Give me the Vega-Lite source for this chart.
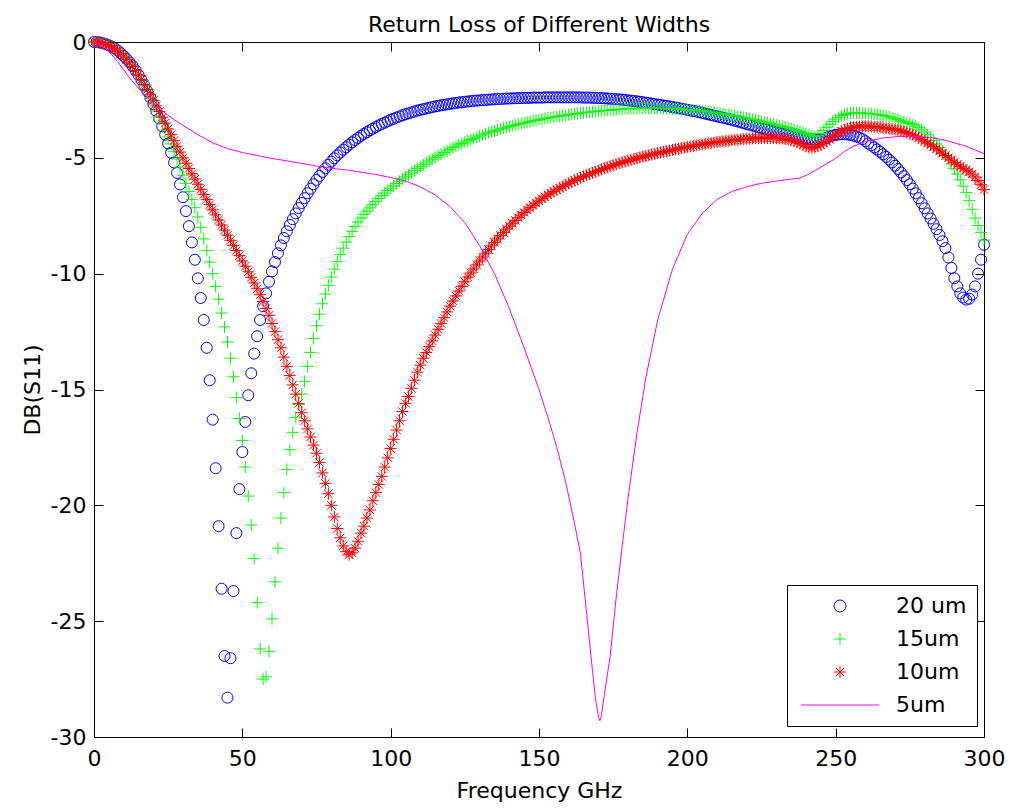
{
"$schema": "https://vega.github.io/schema/vega-lite/v6.json",
"width": 890, "height": 695,
"autosize": {"type": "none"},
"padding": {"left": 94, "top": 42, "right": 26, "bottom": 72},
"background": "white",
"config": {
  "view": {"stroke": "black", "strokeWidth": 1},
  "font": "DejaVu Sans",
  "axis": {"domainColor": "black", "tickColor": "black", "labelColor": "black", "titleColor": "black", "labelFontSize": 22, "titleFontSize": 22, "titleFontWeight": "normal", "labelFont": "DejaVu Sans", "titleFont": "DejaVu Sans", "grid": false, "tickSize": -9, "domainWidth": 1, "tickWidth": 1, "labelFlush": false}
},
"title": {"text": "Return Loss of Different Widths", "fontSize": 22, "fontWeight": "normal", "font": "DejaVu Sans", "color": "black", "anchor": "middle", "frame": "group", "baseline": "alphabetic", "offset": 6, "dy": 29},
"datasets": {
"b": [{"f":0,"d":0},{"f":1,"d":0},{"f":2,"d":-0.02},{"f":3,"d":-0.05},{"f":4,"d":-0.09},{"f":5,"d":-0.14},{"f":6,"d":-0.2},{"f":7,"d":-0.28},{"f":8,"d":-0.37},{"f":9,"d":-0.48},{"f":10,"d":-0.6},{"f":11,"d":-0.73},{"f":12,"d":-0.88},{"f":13,"d":-1.04},{"f":14,"d":-1.22},{"f":15,"d":-1.42},{"f":16,"d":-1.64},{"f":17,"d":-1.88},{"f":18,"d":-2.13},{"f":19,"d":-2.4},{"f":20,"d":-2.68},{"f":21,"d":-2.98},{"f":22,"d":-3.3},{"f":23,"d":-3.64},{"f":24,"d":-4.0},{"f":25,"d":-4.38},{"f":26,"d":-4.78},{"f":27,"d":-5.2},{"f":28,"d":-5.65},{"f":29,"d":-6.15},{"f":30,"d":-6.7},{"f":31,"d":-7.3},{"f":32,"d":-7.95},{"f":33,"d":-8.65},{"f":34,"d":-9.4},{"f":35,"d":-10.2},{"f":36,"d":-11.05},{"f":37,"d":-12.0},{"f":38,"d":-13.2},{"f":39,"d":-14.6},{"f":40,"d":-16.3},{"f":41,"d":-18.4},{"f":42,"d":-20.9},{"f":43,"d":-23.6},{"f":44,"d":-26.5},{"f":45,"d":-28.3},{"f":46,"d":-26.6},{"f":47,"d":-23.7},{"f":48,"d":-21.2},{"f":49,"d":-19.3},{"f":50,"d":-17.7},{"f":51,"d":-16.4},{"f":52,"d":-15.25},{"f":53,"d":-14.3},{"f":54,"d":-13.45},{"f":55,"d":-12.7},{"f":56,"d":-12.0},{"f":57,"d":-11.4},{"f":58,"d":-10.85},{"f":59,"d":-10.35},{"f":60,"d":-9.9},{"f":61,"d":-9.5},{"f":62,"d":-9.12},{"f":63,"d":-8.78},{"f":64,"d":-8.46},{"f":65,"d":-8.17},{"f":66,"d":-7.9},{"f":67,"d":-7.65},{"f":68,"d":-7.4},{"f":69,"d":-7.17},{"f":70,"d":-6.95},{"f":71,"d":-6.74},{"f":72,"d":-6.53},{"f":73,"d":-6.33},{"f":74,"d":-6.14},{"f":75,"d":-5.95},{"f":76,"d":-5.78},{"f":77,"d":-5.61},{"f":78,"d":-5.45},{"f":79,"d":-5.3},{"f":80,"d":-5.16},{"f":81,"d":-5.02},{"f":82,"d":-4.89},{"f":83,"d":-4.77},{"f":84,"d":-4.65},{"f":85,"d":-4.54},{"f":86,"d":-4.43},{"f":87,"d":-4.33},{"f":88,"d":-4.23},{"f":89,"d":-4.14},{"f":90,"d":-4.05},{"f":91,"d":-3.97},{"f":92,"d":-3.89},{"f":93,"d":-3.81},{"f":94,"d":-3.74},{"f":95,"d":-3.67},{"f":96,"d":-3.6},{"f":97,"d":-3.54},{"f":98,"d":-3.48},{"f":99,"d":-3.42},{"f":100,"d":-3.36},{"f":101,"d":-3.31},{"f":102,"d":-3.26},{"f":103,"d":-3.21},{"f":104,"d":-3.16},{"f":105,"d":-3.12},{"f":106,"d":-3.08},{"f":107,"d":-3.04},{"f":108,"d":-3.0},{"f":109,"d":-2.96},{"f":110,"d":-2.93},{"f":111,"d":-2.9},{"f":112,"d":-2.87},{"f":113,"d":-2.84},{"f":114,"d":-2.81},{"f":115,"d":-2.78},{"f":116,"d":-2.76},{"f":117,"d":-2.73},{"f":118,"d":-2.71},{"f":119,"d":-2.69},{"f":120,"d":-2.67},{"f":121,"d":-2.65},{"f":122,"d":-2.63},{"f":123,"d":-2.61},{"f":124,"d":-2.6},{"f":125,"d":-2.58},{"f":126,"d":-2.57},{"f":127,"d":-2.55},{"f":128,"d":-2.54},{"f":129,"d":-2.53},{"f":130,"d":-2.52},{"f":131,"d":-2.51},{"f":132,"d":-2.5},{"f":133,"d":-2.49},{"f":134,"d":-2.48},{"f":135,"d":-2.47},{"f":136,"d":-2.46},{"f":137,"d":-2.46},{"f":138,"d":-2.45},{"f":139,"d":-2.44},{"f":140,"d":-2.44},{"f":141,"d":-2.43},{"f":142,"d":-2.43},{"f":143,"d":-2.42},{"f":144,"d":-2.42},{"f":145,"d":-2.41},{"f":146,"d":-2.41},{"f":147,"d":-2.41},{"f":148,"d":-2.4},{"f":149,"d":-2.4},{"f":150,"d":-2.4},{"f":151,"d":-2.4},{"f":152,"d":-2.39},{"f":153,"d":-2.39},{"f":154,"d":-2.39},{"f":155,"d":-2.39},{"f":156,"d":-2.39},{"f":157,"d":-2.39},{"f":158,"d":-2.39},{"f":159,"d":-2.39},{"f":160,"d":-2.39},{"f":161,"d":-2.39},{"f":162,"d":-2.39},{"f":163,"d":-2.39},{"f":164,"d":-2.39},{"f":165,"d":-2.4},{"f":166,"d":-2.4},{"f":167,"d":-2.4},{"f":168,"d":-2.41},{"f":169,"d":-2.41},{"f":170,"d":-2.42},{"f":171,"d":-2.42},{"f":172,"d":-2.43},{"f":173,"d":-2.44},{"f":174,"d":-2.45},{"f":175,"d":-2.46},{"f":176,"d":-2.47},{"f":177,"d":-2.48},{"f":178,"d":-2.49},{"f":179,"d":-2.5},{"f":180,"d":-2.52},{"f":181,"d":-2.53},{"f":182,"d":-2.55},{"f":183,"d":-2.56},{"f":184,"d":-2.58},{"f":185,"d":-2.6},{"f":186,"d":-2.62},{"f":187,"d":-2.64},{"f":188,"d":-2.66},{"f":189,"d":-2.68},{"f":190,"d":-2.7},{"f":191,"d":-2.72},{"f":192,"d":-2.74},{"f":193,"d":-2.76},{"f":194,"d":-2.78},{"f":195,"d":-2.81},{"f":196,"d":-2.83},{"f":197,"d":-2.85},{"f":198,"d":-2.88},{"f":199,"d":-2.9},{"f":200,"d":-2.93},{"f":201,"d":-2.95},{"f":202,"d":-2.98},{"f":203,"d":-3.0},{"f":204,"d":-3.03},{"f":205,"d":-3.06},{"f":206,"d":-3.09},{"f":207,"d":-3.12},{"f":208,"d":-3.15},{"f":209,"d":-3.18},{"f":210,"d":-3.21},{"f":211,"d":-3.24},{"f":212,"d":-3.27},{"f":213,"d":-3.3},{"f":214,"d":-3.33},{"f":215,"d":-3.36},{"f":216,"d":-3.4},{"f":217,"d":-3.43},{"f":218,"d":-3.47},{"f":219,"d":-3.5},{"f":220,"d":-3.54},{"f":221,"d":-3.57},{"f":222,"d":-3.61},{"f":223,"d":-3.64},{"f":224,"d":-3.68},{"f":225,"d":-3.71},{"f":226,"d":-3.75},{"f":227,"d":-3.79},{"f":228,"d":-3.82},{"f":229,"d":-3.86},{"f":230,"d":-3.89},{"f":231,"d":-3.93},{"f":232,"d":-3.96},{"f":233,"d":-3.99},{"f":234,"d":-4.02},{"f":235,"d":-4.05},{"f":236,"d":-4.08},{"f":237,"d":-4.1},{"f":238,"d":-4.12},{"f":239,"d":-4.14},{"f":240,"d":-4.16},{"f":241,"d":-4.18},{"f":242,"d":-4.2},{"f":243,"d":-4.21},{"f":244,"d":-4.21},{"f":245,"d":-4.2},{"f":246,"d":-4.17},{"f":247,"d":-4.13},{"f":248,"d":-4.08},{"f":249,"d":-4.04},{"f":250,"d":-4.01},{"f":251,"d":-3.99},{"f":252,"d":-3.98},{"f":253,"d":-3.98},{"f":254,"d":-3.99},{"f":255,"d":-4.01},{"f":256,"d":-4.04},{"f":257,"d":-4.08},{"f":258,"d":-4.13},{"f":259,"d":-4.19},{"f":260,"d":-4.28},{"f":261,"d":-4.38},{"f":262,"d":-4.46},{"f":263,"d":-4.55},{"f":264,"d":-4.64},{"f":265,"d":-4.74},{"f":266,"d":-4.85},{"f":267,"d":-4.96},{"f":268,"d":-5.08},{"f":269,"d":-5.2},{"f":270,"d":-5.34},{"f":271,"d":-5.48},{"f":272,"d":-5.63},{"f":273,"d":-5.79},{"f":274,"d":-5.96},{"f":275,"d":-6.14},{"f":276,"d":-6.33},{"f":277,"d":-6.53},{"f":278,"d":-6.74},{"f":279,"d":-6.96},{"f":280,"d":-7.18},{"f":281,"d":-7.4},{"f":282,"d":-7.62},{"f":283,"d":-7.85},{"f":284,"d":-8.08},{"f":285,"d":-8.33},{"f":286,"d":-8.6},{"f":287,"d":-8.9},{"f":288,"d":-9.3},{"f":289,"d":-9.75},{"f":290,"d":-10.2},{"f":291,"d":-10.55},{"f":292,"d":-10.85},{"f":293,"d":-11.03},{"f":294,"d":-11.12},{"f":295,"d":-11.08},{"f":296,"d":-10.9},{"f":297,"d":-10.55},{"f":298,"d":-10.0},{"f":299,"d":-9.4},{"f":300,"d":-8.75}],
"g": [{"f":0,"d":0},{"f":1,"d":0},{"f":2,"d":-0.02},{"f":3,"d":-0.05},{"f":4,"d":-0.09},{"f":5,"d":-0.14},{"f":6,"d":-0.2},{"f":7,"d":-0.28},{"f":8,"d":-0.37},{"f":9,"d":-0.48},{"f":10,"d":-0.6},{"f":11,"d":-0.73},{"f":12,"d":-0.88},{"f":13,"d":-1.04},{"f":14,"d":-1.22},{"f":15,"d":-1.42},{"f":16,"d":-1.64},{"f":17,"d":-1.88},{"f":18,"d":-2.13},{"f":19,"d":-2.4},{"f":20,"d":-2.68},{"f":21,"d":-2.95},{"f":22,"d":-3.22},{"f":23,"d":-3.5},{"f":24,"d":-3.8},{"f":25,"d":-4.1},{"f":26,"d":-4.4},{"f":27,"d":-4.72},{"f":28,"d":-5.05},{"f":29,"d":-5.4},{"f":30,"d":-5.75},{"f":31,"d":-6.1},{"f":32,"d":-6.45},{"f":33,"d":-6.8},{"f":34,"d":-7.15},{"f":35,"d":-7.55},{"f":36,"d":-8.0},{"f":37,"d":-8.5},{"f":38,"d":-9.0},{"f":39,"d":-9.5},{"f":40,"d":-10.0},{"f":41,"d":-10.55},{"f":42,"d":-11.1},{"f":43,"d":-11.7},{"f":44,"d":-12.3},{"f":45,"d":-12.95},{"f":46,"d":-13.65},{"f":47,"d":-14.45},{"f":48,"d":-15.35},{"f":49,"d":-16.25},{"f":50,"d":-17.2},{"f":51,"d":-18.35},{"f":52,"d":-19.6},{"f":53,"d":-20.85},{"f":54,"d":-22.3},{"f":55,"d":-24.2},{"f":56,"d":-26.2},{"f":57,"d":-27.5},{"f":58,"d":-27.4},{"f":59,"d":-26.3},{"f":60,"d":-24.9},{"f":61,"d":-23.3},{"f":62,"d":-21.85},{"f":63,"d":-20.55},{"f":64,"d":-19.45},{"f":65,"d":-18.45},{"f":66,"d":-17.6},{"f":67,"d":-16.85},{"f":68,"d":-16.2},{"f":69,"d":-15.65},{"f":70,"d":-15.2},{"f":71,"d":-14.65},{"f":72,"d":-14.0},{"f":73,"d":-13.4},{"f":74,"d":-12.8},{"f":75,"d":-12.25},{"f":76,"d":-11.75},{"f":77,"d":-11.3},{"f":78,"d":-10.88},{"f":79,"d":-10.5},{"f":80,"d":-10.15},{"f":81,"d":-9.8},{"f":82,"d":-9.48},{"f":83,"d":-9.18},{"f":84,"d":-8.9},{"f":85,"d":-8.64},{"f":86,"d":-8.4},{"f":87,"d":-8.17},{"f":88,"d":-7.96},{"f":89,"d":-7.77},{"f":90,"d":-7.6},{"f":91,"d":-7.44},{"f":92,"d":-7.3},{"f":93,"d":-7.16},{"f":94,"d":-7.02},{"f":95,"d":-6.88},{"f":96,"d":-6.75},{"f":97,"d":-6.63},{"f":98,"d":-6.52},{"f":99,"d":-6.41},{"f":100,"d":-6.31},{"f":101,"d":-6.21},{"f":102,"d":-6.11},{"f":103,"d":-6.01},{"f":104,"d":-5.91},{"f":105,"d":-5.82},{"f":106,"d":-5.73},{"f":107,"d":-5.64},{"f":108,"d":-5.55},{"f":109,"d":-5.46},{"f":110,"d":-5.38},{"f":111,"d":-5.3},{"f":112,"d":-5.22},{"f":113,"d":-5.14},{"f":114,"d":-5.06},{"f":115,"d":-4.98},{"f":116,"d":-4.91},{"f":117,"d":-4.84},{"f":118,"d":-4.77},{"f":119,"d":-4.7},{"f":120,"d":-4.63},{"f":121,"d":-4.56},{"f":122,"d":-4.5},{"f":123,"d":-4.44},{"f":124,"d":-4.38},{"f":125,"d":-4.32},{"f":126,"d":-4.26},{"f":127,"d":-4.21},{"f":128,"d":-4.16},{"f":129,"d":-4.11},{"f":130,"d":-4.06},{"f":131,"d":-4.01},{"f":132,"d":-3.96},{"f":133,"d":-3.92},{"f":134,"d":-3.88},{"f":135,"d":-3.84},{"f":136,"d":-3.8},{"f":137,"d":-3.76},{"f":138,"d":-3.72},{"f":139,"d":-3.68},{"f":140,"d":-3.65},{"f":141,"d":-3.61},{"f":142,"d":-3.58},{"f":143,"d":-3.55},{"f":144,"d":-3.52},{"f":145,"d":-3.49},{"f":146,"d":-3.46},{"f":147,"d":-3.43},{"f":148,"d":-3.4},{"f":149,"d":-3.38},{"f":150,"d":-3.35},{"f":151,"d":-3.33},{"f":152,"d":-3.3},{"f":153,"d":-3.28},{"f":154,"d":-3.26},{"f":155,"d":-3.24},{"f":156,"d":-3.22},{"f":157,"d":-3.2},{"f":158,"d":-3.18},{"f":159,"d":-3.16},{"f":160,"d":-3.14},{"f":161,"d":-3.12},{"f":162,"d":-3.1},{"f":163,"d":-3.09},{"f":164,"d":-3.07},{"f":165,"d":-3.05},{"f":166,"d":-3.04},{"f":167,"d":-3.02},{"f":168,"d":-3.01},{"f":169,"d":-3.0},{"f":170,"d":-2.98},{"f":171,"d":-2.97},{"f":172,"d":-2.96},{"f":173,"d":-2.95},{"f":174,"d":-2.94},{"f":175,"d":-2.93},{"f":176,"d":-2.92},{"f":177,"d":-2.91},{"f":178,"d":-2.9},{"f":179,"d":-2.89},{"f":180,"d":-2.88},{"f":181,"d":-2.88},{"f":182,"d":-2.87},{"f":183,"d":-2.87},{"f":184,"d":-2.86},{"f":185,"d":-2.86},{"f":186,"d":-2.86},{"f":187,"d":-2.86},{"f":188,"d":-2.86},{"f":189,"d":-2.86},{"f":190,"d":-2.86},{"f":191,"d":-2.86},{"f":192,"d":-2.86},{"f":193,"d":-2.87},{"f":194,"d":-2.87},{"f":195,"d":-2.88},{"f":196,"d":-2.88},{"f":197,"d":-2.89},{"f":198,"d":-2.9},{"f":199,"d":-2.91},{"f":200,"d":-2.92},{"f":201,"d":-2.93},{"f":202,"d":-2.94},{"f":203,"d":-2.95},{"f":204,"d":-2.96},{"f":205,"d":-2.98},{"f":206,"d":-2.99},{"f":207,"d":-3.01},{"f":208,"d":-3.02},{"f":209,"d":-3.04},{"f":210,"d":-3.06},{"f":211,"d":-3.08},{"f":212,"d":-3.1},{"f":213,"d":-3.12},{"f":214,"d":-3.14},{"f":215,"d":-3.16},{"f":216,"d":-3.18},{"f":217,"d":-3.21},{"f":218,"d":-3.23},{"f":219,"d":-3.26},{"f":220,"d":-3.28},{"f":221,"d":-3.31},{"f":222,"d":-3.34},{"f":223,"d":-3.37},{"f":224,"d":-3.4},{"f":225,"d":-3.43},{"f":226,"d":-3.46},{"f":227,"d":-3.49},{"f":228,"d":-3.52},{"f":229,"d":-3.55},{"f":230,"d":-3.58},{"f":231,"d":-3.61},{"f":232,"d":-3.64},{"f":233,"d":-3.67},{"f":234,"d":-3.7},{"f":235,"d":-3.74},{"f":236,"d":-3.78},{"f":237,"d":-3.82},{"f":238,"d":-3.86},{"f":239,"d":-3.9},{"f":240,"d":-3.95},{"f":241,"d":-4.0},{"f":242,"d":-4.05},{"f":243,"d":-4.08},{"f":244,"d":-4.05},{"f":245,"d":-3.95},{"f":246,"d":-3.82},{"f":247,"d":-3.68},{"f":248,"d":-3.55},{"f":249,"d":-3.43},{"f":250,"d":-3.33},{"f":251,"d":-3.25},{"f":252,"d":-3.18},{"f":253,"d":-3.13},{"f":254,"d":-3.09},{"f":255,"d":-3.07},{"f":256,"d":-3.06},{"f":257,"d":-3.06},{"f":258,"d":-3.06},{"f":259,"d":-3.07},{"f":260,"d":-3.08},{"f":261,"d":-3.09},{"f":262,"d":-3.1},{"f":263,"d":-3.11},{"f":264,"d":-3.13},{"f":265,"d":-3.15},{"f":266,"d":-3.17},{"f":267,"d":-3.2},{"f":268,"d":-3.23},{"f":269,"d":-3.27},{"f":270,"d":-3.31},{"f":271,"d":-3.35},{"f":272,"d":-3.4},{"f":273,"d":-3.44},{"f":274,"d":-3.48},{"f":275,"d":-3.52},{"f":276,"d":-3.57},{"f":277,"d":-3.63},{"f":278,"d":-3.7},{"f":279,"d":-3.79},{"f":280,"d":-3.89},{"f":281,"d":-4.0},{"f":282,"d":-4.12},{"f":283,"d":-4.25},{"f":284,"d":-4.4},{"f":285,"d":-4.55},{"f":286,"d":-4.7},{"f":287,"d":-4.88},{"f":288,"d":-5.06},{"f":289,"d":-5.26},{"f":290,"d":-5.47},{"f":291,"d":-5.7},{"f":292,"d":-5.95},{"f":293,"d":-6.22},{"f":294,"d":-6.5},{"f":295,"d":-6.85},{"f":296,"d":-7.22},{"f":297,"d":-7.6},{"f":298,"d":-7.92},{"f":299,"d":-8.22},{"f":300,"d":-8.55}],
"r": [{"f":0,"d":0},{"f":1,"d":-0.01},{"f":2,"d":-0.03},{"f":3,"d":-0.06},{"f":4,"d":-0.1},{"f":5,"d":-0.15},{"f":6,"d":-0.21},{"f":7,"d":-0.29},{"f":8,"d":-0.38},{"f":9,"d":-0.49},{"f":10,"d":-0.61},{"f":11,"d":-0.75},{"f":12,"d":-0.9},{"f":13,"d":-1.06},{"f":14,"d":-1.23},{"f":15,"d":-1.42},{"f":16,"d":-1.62},{"f":17,"d":-1.83},{"f":18,"d":-2.05},{"f":19,"d":-2.28},{"f":20,"d":-2.52},{"f":21,"d":-2.76},{"f":22,"d":-3.0},{"f":23,"d":-3.25},{"f":24,"d":-3.5},{"f":25,"d":-3.75},{"f":26,"d":-4.0},{"f":27,"d":-4.25},{"f":28,"d":-4.5},{"f":29,"d":-4.75},{"f":30,"d":-5.0},{"f":31,"d":-5.23},{"f":32,"d":-5.46},{"f":33,"d":-5.69},{"f":34,"d":-5.92},{"f":35,"d":-6.14},{"f":36,"d":-6.36},{"f":37,"d":-6.58},{"f":38,"d":-6.8},{"f":39,"d":-7.02},{"f":40,"d":-7.24},{"f":41,"d":-7.46},{"f":42,"d":-7.68},{"f":43,"d":-7.9},{"f":44,"d":-8.12},{"f":45,"d":-8.34},{"f":46,"d":-8.56},{"f":47,"d":-8.78},{"f":48,"d":-9.0},{"f":49,"d":-9.22},{"f":50,"d":-9.45},{"f":51,"d":-9.68},{"f":52,"d":-9.92},{"f":53,"d":-10.16},{"f":54,"d":-10.4},{"f":55,"d":-10.65},{"f":56,"d":-10.91},{"f":57,"d":-11.2},{"f":58,"d":-11.5},{"f":59,"d":-11.8},{"f":60,"d":-12.15},{"f":61,"d":-12.5},{"f":62,"d":-12.85},{"f":63,"d":-13.2},{"f":64,"d":-13.6},{"f":65,"d":-14.0},{"f":66,"d":-14.4},{"f":67,"d":-14.8},{"f":68,"d":-15.2},{"f":69,"d":-15.6},{"f":70,"d":-16.0},{"f":71,"d":-16.35},{"f":72,"d":-16.7},{"f":73,"d":-17.05},{"f":74,"d":-17.4},{"f":75,"d":-17.75},{"f":76,"d":-18.15},{"f":77,"d":-18.6},{"f":78,"d":-19.05},{"f":79,"d":-19.5},{"f":80,"d":-20.0},{"f":81,"d":-20.5},{"f":82,"d":-21.0},{"f":83,"d":-21.4},{"f":84,"d":-21.75},{"f":85,"d":-22.0},{"f":86,"d":-22.13},{"f":87,"d":-22.05},{"f":88,"d":-21.85},{"f":89,"d":-21.55},{"f":90,"d":-21.2},{"f":91,"d":-20.9},{"f":92,"d":-20.55},{"f":93,"d":-20.2},{"f":94,"d":-19.8},{"f":95,"d":-19.45},{"f":96,"d":-19.1},{"f":97,"d":-18.75},{"f":98,"d":-18.35},{"f":99,"d":-17.95},{"f":100,"d":-17.55},{"f":101,"d":-17.15},{"f":102,"d":-16.75},{"f":103,"d":-16.35},{"f":104,"d":-15.95},{"f":105,"d":-15.6},{"f":106,"d":-15.3},{"f":107,"d":-14.95},{"f":108,"d":-14.6},{"f":109,"d":-14.25},{"f":110,"d":-13.95},{"f":111,"d":-13.65},{"f":112,"d":-13.4},{"f":113,"d":-13.15},{"f":114,"d":-12.9},{"f":115,"d":-12.65},{"f":116,"d":-12.4},{"f":117,"d":-12.15},{"f":118,"d":-11.9},{"f":119,"d":-11.65},{"f":120,"d":-11.4},{"f":121,"d":-11.18},{"f":122,"d":-10.96},{"f":123,"d":-10.75},{"f":124,"d":-10.55},{"f":125,"d":-10.35},{"f":126,"d":-10.15},{"f":127,"d":-9.97},{"f":128,"d":-9.8},{"f":129,"d":-9.62},{"f":130,"d":-9.45},{"f":131,"d":-9.28},{"f":132,"d":-9.12},{"f":133,"d":-8.96},{"f":134,"d":-8.8},{"f":135,"d":-8.65},{"f":136,"d":-8.5},{"f":137,"d":-8.36},{"f":138,"d":-8.22},{"f":139,"d":-8.08},{"f":140,"d":-7.95},{"f":141,"d":-7.82},{"f":142,"d":-7.7},{"f":143,"d":-7.58},{"f":144,"d":-7.47},{"f":145,"d":-7.36},{"f":146,"d":-7.25},{"f":147,"d":-7.15},{"f":148,"d":-7.05},{"f":149,"d":-6.95},{"f":150,"d":-6.86},{"f":151,"d":-6.77},{"f":152,"d":-6.68},{"f":153,"d":-6.6},{"f":154,"d":-6.52},{"f":155,"d":-6.45},{"f":156,"d":-6.38},{"f":157,"d":-6.31},{"f":158,"d":-6.24},{"f":159,"d":-6.17},{"f":160,"d":-6.1},{"f":161,"d":-6.04},{"f":162,"d":-5.98},{"f":163,"d":-5.92},{"f":164,"d":-5.86},{"f":165,"d":-5.8},{"f":166,"d":-5.75},{"f":167,"d":-5.7},{"f":168,"d":-5.65},{"f":169,"d":-5.6},{"f":170,"d":-5.55},{"f":171,"d":-5.5},{"f":172,"d":-5.46},{"f":173,"d":-5.41},{"f":174,"d":-5.37},{"f":175,"d":-5.32},{"f":176,"d":-5.28},{"f":177,"d":-5.24},{"f":178,"d":-5.2},{"f":179,"d":-5.16},{"f":180,"d":-5.12},{"f":181,"d":-5.09},{"f":182,"d":-5.05},{"f":183,"d":-5.02},{"f":184,"d":-4.98},{"f":185,"d":-4.95},{"f":186,"d":-4.92},{"f":187,"d":-4.89},{"f":188,"d":-4.86},{"f":189,"d":-4.83},{"f":190,"d":-4.8},{"f":191,"d":-4.77},{"f":192,"d":-4.74},{"f":193,"d":-4.72},{"f":194,"d":-4.69},{"f":195,"d":-4.66},{"f":196,"d":-4.63},{"f":197,"d":-4.61},{"f":198,"d":-4.58},{"f":199,"d":-4.56},{"f":200,"d":-4.53},{"f":201,"d":-4.51},{"f":202,"d":-4.49},{"f":203,"d":-4.46},{"f":204,"d":-4.44},{"f":205,"d":-4.42},{"f":206,"d":-4.4},{"f":207,"d":-4.38},{"f":208,"d":-4.36},{"f":209,"d":-4.34},{"f":210,"d":-4.32},{"f":211,"d":-4.3},{"f":212,"d":-4.29},{"f":213,"d":-4.27},{"f":214,"d":-4.26},{"f":215,"d":-4.24},{"f":216,"d":-4.23},{"f":217,"d":-4.22},{"f":218,"d":-4.2},{"f":219,"d":-4.19},{"f":220,"d":-4.18},{"f":221,"d":-4.17},{"f":222,"d":-4.16},{"f":223,"d":-4.15},{"f":224,"d":-4.15},{"f":225,"d":-4.14},{"f":226,"d":-4.14},{"f":227,"d":-4.14},{"f":228,"d":-4.14},{"f":229,"d":-4.14},{"f":230,"d":-4.15},{"f":231,"d":-4.16},{"f":232,"d":-4.17},{"f":233,"d":-4.19},{"f":234,"d":-4.21},{"f":235,"d":-4.24},{"f":236,"d":-4.28},{"f":237,"d":-4.33},{"f":238,"d":-4.38},{"f":239,"d":-4.44},{"f":240,"d":-4.5},{"f":241,"d":-4.55},{"f":242,"d":-4.57},{"f":243,"d":-4.55},{"f":244,"d":-4.5},{"f":245,"d":-4.44},{"f":246,"d":-4.37},{"f":247,"d":-4.29},{"f":248,"d":-4.2},{"f":249,"d":-4.11},{"f":250,"d":-4.02},{"f":251,"d":-3.93},{"f":252,"d":-3.85},{"f":253,"d":-3.79},{"f":254,"d":-3.74},{"f":255,"d":-3.7},{"f":256,"d":-3.68},{"f":257,"d":-3.66},{"f":258,"d":-3.65},{"f":259,"d":-3.64},{"f":260,"d":-3.64},{"f":261,"d":-3.64},{"f":262,"d":-3.65},{"f":263,"d":-3.66},{"f":264,"d":-3.67},{"f":265,"d":-3.68},{"f":266,"d":-3.7},{"f":267,"d":-3.72},{"f":268,"d":-3.74},{"f":269,"d":-3.76},{"f":270,"d":-3.78},{"f":271,"d":-3.8},{"f":272,"d":-3.83},{"f":273,"d":-3.87},{"f":274,"d":-3.91},{"f":275,"d":-3.96},{"f":276,"d":-4.01},{"f":277,"d":-4.07},{"f":278,"d":-4.14},{"f":279,"d":-4.21},{"f":280,"d":-4.28},{"f":281,"d":-4.36},{"f":282,"d":-4.44},{"f":283,"d":-4.52},{"f":284,"d":-4.61},{"f":285,"d":-4.7},{"f":286,"d":-4.8},{"f":287,"d":-4.9},{"f":288,"d":-5.0},{"f":289,"d":-5.1},{"f":290,"d":-5.2},{"f":291,"d":-5.29},{"f":292,"d":-5.37},{"f":293,"d":-5.45},{"f":294,"d":-5.52},{"f":295,"d":-5.6},{"f":296,"d":-5.7},{"f":297,"d":-5.83},{"f":298,"d":-5.98},{"f":299,"d":-6.16},{"f":300,"d":-6.37}],
"m": [{"f":0,"d":0},{"f":2,"d":-0.1},{"f":4,"d":-0.3},{"f":6,"d":-0.55},{"f":8,"d":-0.85},{"f":10,"d":-1.2},{"f":12,"d":-1.55},{"f":15,"d":-2.0},{"f":18,"d":-2.4},{"f":21,"d":-2.75},{"f":24,"d":-3.07},{"f":27,"d":-3.35},{"f":30,"d":-3.6},{"f":35,"d":-4.0},{"f":40,"d":-4.35},{"f":45,"d":-4.6},{"f":50,"d":-4.77},{"f":55,"d":-4.9},{"f":60,"d":-5.03},{"f":65,"d":-5.13},{"f":70,"d":-5.24},{"f":75,"d":-5.35},{"f":80,"d":-5.45},{"f":85,"d":-5.52},{"f":90,"d":-5.62},{"f":95,"d":-5.72},{"f":100,"d":-5.85},{"f":105,"d":-6.0},{"f":110,"d":-6.25},{"f":115,"d":-6.6},{"f":120,"d":-7.1},{"f":125,"d":-7.8},{"f":130,"d":-8.8},{"f":135,"d":-10.0},{"f":140,"d":-11.5},{"f":145,"d":-13.2},{"f":150,"d":-15.0},{"f":153,"d":-16.2},{"f":156,"d":-17.5},{"f":159,"d":-19.0},{"f":162,"d":-20.8},{"f":164,"d":-22.1},{"f":166,"d":-24.6},{"f":168,"d":-27.1},{"f":169,"d":-28.3},{"f":170,"d":-29.1},{"f":170.5,"d":-29.3},{"f":171,"d":-29.1},{"f":172,"d":-28.2},{"f":174,"d":-26.5},{"f":176,"d":-24.0},{"f":178,"d":-21.8},{"f":180,"d":-19.7},{"f":183,"d":-16.9},{"f":186,"d":-14.5},{"f":190,"d":-12.0},{"f":195,"d":-9.8},{"f":200,"d":-8.3},{"f":205,"d":-7.4},{"f":210,"d":-6.8},{"f":215,"d":-6.45},{"f":220,"d":-6.25},{"f":225,"d":-6.1},{"f":230,"d":-6.0},{"f":235,"d":-5.92},{"f":238,"d":-5.87},{"f":241,"d":-5.7},{"f":244,"d":-5.48},{"f":247,"d":-5.25},{"f":250,"d":-5.03},{"f":253,"d":-4.72},{"f":256,"d":-4.5},{"f":260,"d":-4.3},{"f":266,"d":-4.14},{"f":272,"d":-4.07},{"f":278,"d":-4.07},{"f":283,"d":-4.14},{"f":288,"d":-4.28},{"f":294,"d":-4.5},{"f":300,"d":-4.82}]
},
"layer": [
 {"data": {"name": "b"},
  "mark": {"type": "point", "filled": false, "strokeWidth": 1, "size": 121, "opacity": 1},
  "encoding": {
   "x": {"field": "f", "type": "quantitative", "scale": {"domain": [0, 300], "nice": false, "zero": false}, "axis": {"values": [0, 50, 100, 150, 200, 250, 300], "title": "Frequency GHz", "labelPadding": 20, "titlePadding": 11, "labelExpr": "toString(datum.value)"}},
   "y": {"field": "d", "type": "quantitative", "scale": {"domain": [-30, 0], "nice": false, "zero": false}, "axis": {"values": [0, -5, -10, -15, -20, -25, -30], "title": "DB(S11)", "labelPadding": 17, "titlePadding": 6, "labelExpr": "toString(datum.value)"}},
   "color": {"datum": "20 um", "type": "nominal", "scale": {"domain": ["20 um", "15um", "10um", "5um"], "range": ["#0000ff", "#00ff00", "#ff0000", "#ff00ff"]},
     "legend": {"orient": "none", "legendX": 693, "legendY": 543, "title": null, "fillColor": "white", "strokeColor": "black", "padding": 10, "symbolSize": 144, "symbolStrokeWidth": 1, "labelFontSize": 22, "labelFont": "DejaVu Sans", "labelColor": "black", "rowPadding": 11, "symbolOffset": 32, "labelOffset": 45, "labelLimit": 0}},
   "shape": {"datum": "20 um", "type": "nominal", "scale": {"domain": ["20 um", "15um", "10um", "5um"], "range": ["circle", "M-1,0L1,0M0,-1L0,1", "M-1,0L1,0M0,-1L0,1M-0.7,-0.7L0.7,0.7M-0.7,0.7L0.7,-0.7", "M-6.5,0L6.5,0"]},
     "legend": {"orient": "none", "legendX": 693, "legendY": 543, "title": null, "fillColor": "white", "strokeColor": "black", "padding": 10, "symbolSize": 144, "symbolStrokeWidth": 1, "labelFontSize": 22, "labelFont": "DejaVu Sans", "labelColor": "black", "rowPadding": 11, "symbolOffset": 32, "labelOffset": 45, "labelLimit": 0}}
  }},
 {"data": {"name": "g"},
  "mark": {"type": "point", "filled": false, "strokeWidth": 1, "size": 144, "opacity": 1},
  "encoding": {
   "x": {"field": "f", "type": "quantitative", "axis": {"orient": "top", "values": [0, 50, 100, 150, 200, 250, 300], "labels": false, "title": null}},
   "y": {"field": "d", "type": "quantitative", "axis": {"orient": "right", "values": [0, -5, -10, -15, -20, -25, -30], "labels": false, "title": null}},
   "color": {"datum": "15um", "type": "nominal"},
   "shape": {"datum": "15um", "type": "nominal"}
  }},
 {"data": {"name": "r"},
  "mark": {"type": "point", "filled": false, "strokeWidth": 1, "size": 144, "opacity": 1},
  "encoding": {
   "x": {"field": "f", "type": "quantitative", "axis": null},
   "y": {"field": "d", "type": "quantitative", "axis": null},
   "color": {"datum": "10um", "type": "nominal"},
   "shape": {"datum": "10um", "type": "nominal"}
  }},
 {"data": {"name": "m"},
  "mark": {"type": "line", "strokeWidth": 1},
  "encoding": {
   "x": {"field": "f", "type": "quantitative", "axis": null},
   "y": {"field": "d", "type": "quantitative", "axis": null},
   "color": {"datum": "5um", "type": "nominal"}
  }}
],
"resolve": {"axis": {"x": "independent", "y": "independent"}}
}
